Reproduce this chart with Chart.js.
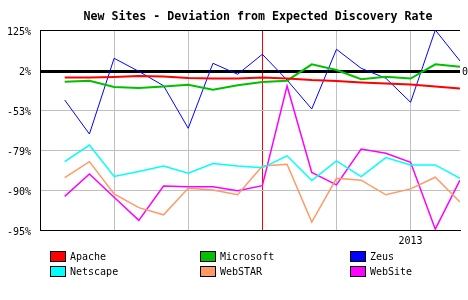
<!DOCTYPE html>
<html>
<head>
<meta charset="utf-8">
<script src="https://cdn.jsdelivr.net/npm/chart.js@4/dist/chart.umd.min.js"></script>
<style>
  html, body { margin: 0; padding: 0; background: #fff; }
</style>
</head>
<body>
<canvas id="chart" width="468" height="300"></canvas>
<script>
// values, in percent
const chartTitle = 'New Sites - Deviation from Expected Discovery Rate';
const xLabels = ['', '', '', '', '', '', '', '', '', '', '', '', '', '', '2013', '', ''];
const yTickValues = [-95, -90, -79, -53, 2, 125];
const yTickLabels = ['-95%', '-90%', '-79%', '-53%', '2%', '125%'];
const seriesNames = ['Apache', 'Microsoft', 'Zeus', 'Netscape', 'WebSTAR', 'WebSite'];

const apache    = [-8.3, -8.3, -7.6, -6.3, -6.9, -9.0, -9.7, -9.7, -8.3, -9.7, -11.8, -13.1, -15.2, -16.6, -17.9, -20.7, -23.4];
const microsoft = [-14.1, -12.7, -21.4, -22.8, -20.7, -18.2, -25.1, -19.0, -14.5, -12.7, 19.5, 2.0, -10.8, -7.2, -9.7, 19.5, 12.1];
const zeus      = [-39.3, -68.6, 38.0, 0.1, -19.6, -64.9, 22.6, -3.9, 50.3, -11.8, -51.6, 65.7, 7.2, -9.4, -42.4, 125, 29.7];
const netscape  = [-82.2, -75.8, -86.3, -84.9, -83.4, -85.4, -82.7, -83.4, -83.9, -80.6, -87.4, -82.0, -86.3, -81.1, -83.1, -83.1, -86.8];
const webstar   = [-86.6, -82.2, -90.5, -92.2, -93.1, -89.5, -90.0, -90.6, -83.4, -82.9, -94.0, -86.8, -87.3, -90.6, -89.7, -86.5, -91.5];
const website   = [-90.8, -85.6, -90.9, -93.8, -88.9, -89.1, -89.1, -90.1, -88.8, -20.0, -85.2, -88.6, -78.4, -79.9, -82.4, -94.9, -87.3];

const markerIndex = 8; // red vertical line

const seriesColors = ['#ff0000', '#00c000', '#0000ff', '#00ffff', '#ff9966', '#ff00ff'];
const seriesWidths = [2, 2, 1, 1.5, 1.5, 1.5];
const MONO = '"DejaVu Sans Mono", "Liberation Mono", monospace';

// the y axis is spaced evenly by tick, so map a percent onto tick positions
function toPos(v) {
  for (let k = 0; k < yTickValues.length - 1; k++) {
    const a = yTickValues[k], b = yTickValues[k + 1];
    if (v <= b || k === yTickValues.length - 2) {
      return k + (v - a) / (b - a);
    }
  }
  return 0;
}

const allSeries = [apache, microsoft, zeus, netscape, webstar, website];

const datasets = allSeries.map((vals, i) => ({
  label: seriesNames[i],
  data: vals.map((v, j) => ({ x: j, y: toPos(v) })),
  borderColor: seriesColors[i],
  backgroundColor: seriesColors[i],
  borderWidth: seriesWidths[i],
  pointRadius: 0,
  tension: 0,
  fill: false,
}));

const zeroLine = {
  id: 'zeroLine',
  beforeDatasetsDraw(chart) {
    const { ctx, chartArea } = chart;
    const y = chart.scales.y.getPixelForValue(toPos(0));
    ctx.save();
    ctx.fillStyle = '#000';
    ctx.fillRect(chartArea.left, Math.round(y) - 1, chartArea.right - chartArea.left, 3);
    ctx.font = '10px ' + MONO;
    ctx.textBaseline = 'middle';
    ctx.textAlign = 'left';
    ctx.fillText('0', chartArea.right + 2, y + 1);
    ctx.restore();
  },
};

const titleAndLegend = {
  id: 'titleAndLegend',
  afterDraw(chart) {
    const ctx = chart.ctx;
    ctx.save();
    ctx.fillStyle = '#000';
    ctx.font = 'bold 11.6px ' + MONO;
    ctx.textAlign = 'center';
    ctx.textBaseline = 'middle';
    ctx.fillText(chartTitle, 258, 17);

    ctx.font = '10px ' + MONO;
    ctx.textAlign = 'left';
    chart.data.datasets.forEach((ds, i) => {
      const x = 50 + (i % 3) * 150;
      const y = 251 + Math.floor(i / 3) * 15;
      ctx.fillStyle = ds.borderColor;
      ctx.fillRect(x, y, 15, 10);
      ctx.strokeStyle = '#000';
      ctx.lineWidth = 1;
      ctx.strokeRect(x + 0.5, y + 0.5, 15, 10);
      ctx.fillStyle = '#000';
      ctx.fillText(ds.label, x + 20, y + 6);
    });
    ctx.restore();
  },
};

new Chart(document.getElementById('chart'), {
  type: 'line',
  data: { datasets },
  plugins: [zeroLine, titleAndLegend],
  options: {
    responsive: false,
    animation: false,
    layout: { padding: { top: 30, right: 8, left: 0, bottom: 0 } },
    plugins: {
      legend: { display: false },
      title: { display: false },
      tooltip: { enabled: false },
    },
    scales: {
      x: {
        type: 'linear',
        min: -1,
        max: 16,
        afterFit: (s) => { s.height = 70; },
        ticks: {
          stepSize: 1,
          autoSkip: false,
          maxRotation: 0,
          padding: 5,
          color: '#000',
          font: { family: MONO, size: 10 },
          callback: (v) => xLabels[v] || '',
        },
        grid: {
          drawTicks: false,
          lineWidth: 1,
          color: (c) => {
            const v = c.tick && c.tick.value;
            if (v === markerIndex) return '#ff0000';
            if (v >= 0 && (v - 2) % 3 === 0) return '#c0c0c0';
            return 'rgba(0,0,0,0)';
          },
        },
        border: { color: '#000', width: 1 },
      },
      y: {
        type: 'linear',
        min: 0,
        max: 5,
        afterFit: (s) => { s.width = 40; },
        ticks: {
          stepSize: 1,
          padding: 9,
          color: '#000',
          // empty first line nudges each label ~2px below its grid line, as in the reference
          font: { family: MONO, size: 10, lineHeight: '4px' },
          callback: (v) => ['', yTickLabels[v]],
        },
        grid: {
          drawTicks: false,
          lineWidth: 1,
          color: (c) => {
            const v = c.tick && c.tick.value;
            if (v === 5) return '#000';
            if (v === 0) return 'rgba(0,0,0,0)';
            return '#c0c0c0';
          },
        },
        border: { color: '#000', width: 1 },
      },
    },
  },
});
</script>
</body>
</html>
